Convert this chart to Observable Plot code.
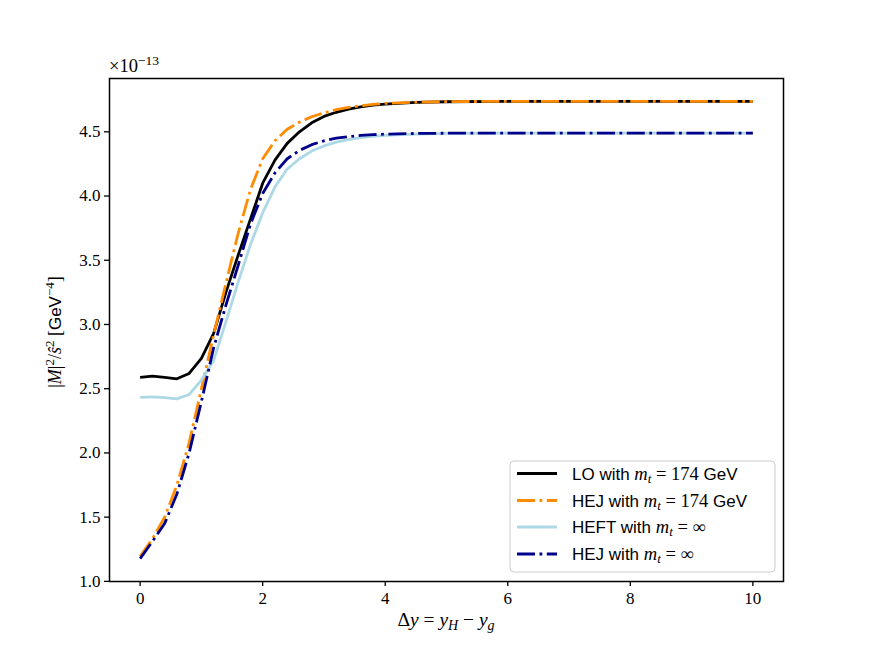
<!DOCTYPE html>
<html>
<head>
<meta charset="utf-8">
<script src="https://cdn.jsdelivr.net/npm/d3@7"></script>
<script src="https://cdn.jsdelivr.net/npm/@observablehq/plot@0.6"></script>
<style>
  html, body { margin: 0; padding: 0; background: white; }
  #chart { width: 871px; height: 654px; }
</style>
</head>
<body>
<div id="chart"></div>
<script>
// Δy values
const dy = [0, 0.2, 0.4, 0.6, 0.8, 1.0, 1.2, 1.4, 1.6, 1.8, 2.0, 2.2, 2.4, 2.6, 2.8, 3.0, 3.2, 3.4, 3.6, 3.8, 4.0, 4.5, 5, 6, 7, 8, 9, 10];
// |M|^2 / s^2 in units of 1e-13 GeV^-4
const loMt174 = [2.588, 2.598, 2.588, 2.577, 2.619, 2.736, 2.93, 3.25, 3.54, 3.82, 4.10, 4.28, 4.41, 4.50, 4.57, 4.62, 4.652, 4.676, 4.694, 4.707, 4.716, 4.729, 4.734, 4.737, 4.737, 4.737, 4.737, 4.737];
const hejMt174 = [1.195, 1.33, 1.50, 1.75, 2.08, 2.50, 2.92, 3.32, 3.71, 4.05, 4.29, 4.43, 4.52, 4.575, 4.617, 4.648, 4.672, 4.69, 4.703, 4.714, 4.721, 4.731, 4.735, 4.737, 4.737, 4.737, 4.737, 4.737];
const heftInf = [2.432, 2.437, 2.43, 2.421, 2.455, 2.567, 2.72, 3.02, 3.33, 3.62, 3.87, 4.07, 4.21, 4.29, 4.35, 4.39, 4.42, 4.44, 4.455, 4.465, 4.472, 4.482, 4.487, 4.49, 4.49, 4.49, 4.49, 4.49];
const hejInf = [1.177, 1.31, 1.45, 1.68, 2.00, 2.40, 2.82, 3.15, 3.46, 3.78, 4.02, 4.18, 4.29, 4.355, 4.40, 4.43, 4.45, 4.463, 4.472, 4.478, 4.482, 4.487, 4.489, 4.49, 4.49, 4.49, 4.49, 4.49];

const xTicks = [0, 2, 4, 6, 8, 10];
const yTicks = [1.0, 1.5, 2.0, 2.5, 3.0, 3.5, 4.0, 4.5];

const seriesDefs = [
  {key: "LO174", values: loMt174, color: "#000000", dash: null},
  {key: "HEJ174", values: hejMt174, color: "#ff8c00", dash: "18,4.5,2.8,4.5"},
  {key: "HEFTinf", values: heftInf, color: "#add8e6", dash: null},
  {key: "HEJinf", values: hejInf, color: "#00008b", dash: "18,4.5,2.8,4.5"}
];

const lineMarks = seriesDefs.map(s => {
  const rows = dy.map((x, i) => ({x, y: s.values[i]}));
  const opts = {x: "x", y: "y", stroke: s.color, strokeWidth: 2.8, strokeLinejoin: "round", strokeLinecap: "butt"};
  if (s.dash) opts.strokeDasharray = s.dash;
  return Plot.line(rows, opts);
});

const serif = "'Liberation Serif', 'DejaVu Serif', serif";
const sans = "'Liberation Sans', 'DejaVu Sans', sans-serif";

const chart = Plot.plot({
  width: 871,
  height: 654,
  marginLeft: 109,
  marginRight: 88,
  marginTop: 78,
  marginBottom: 73,
  style: {fontFamily: serif, fontSize: "17px", background: "white", color: "black"},
  x: {domain: [-0.5, 10.5]},
  y: {domain: [0.999, 4.915]},
  marks: [
    ...lineMarks,
    Plot.axisX({ticks: xTicks, tickFormat: d => String(d), tickSize: 5, tickPadding: 5, label: null, fontSize: 17, strokeWidth: 1.3}),
    Plot.axisY({ticks: yTicks, tickFormat: d => d.toFixed(1), tickSize: 5, tickPadding: 4, label: null, fontSize: 17, strokeWidth: 1.3}),
    Plot.frame({stroke: "black", strokeWidth: 1.5})
  ]
});

document.getElementById("chart").appendChild(chart);

const svg = d3.select(chart);

function txt(parent) {
  return parent.append("text").attr("text-anchor", "start").attr("fill", "black");
}
function span(t, str, opts = {}) {
  const s = t.append("tspan").text(str);
  if (opts.family) s.style("font-family", opts.family);
  if (opts.size) s.style("font-size", opts.size + "px");
  if (opts.italic) s.style("font-style", "italic");
  if (opts.dy) s.attr("dy", opts.dy);
  return s;
}

// multiplier
const mult = txt(svg).attr("x", 109).attr("y", 72).style("font-family", serif).style("font-size", "18.5px");
span(mult, "×10");
span(mult, "−13", {size: 13.5, dy: -7});

// x label
const xl = txt(svg).attr("x", 446).attr("y", 626).attr("text-anchor", "middle").style("font-family", serif).style("font-size", "19.5px");
span(xl, "Δ");
span(xl, "y", {italic: true});
span(xl, " = ");
span(xl, "y", {italic: true});
span(xl, "H", {italic: true, size: 14, dy: 4});
span(xl, " − ", {dy: -4});
span(xl, "y", {italic: true});
span(xl, "g", {italic: true, size: 14, dy: 4});

// y label
const yl = txt(svg).attr("transform", "translate(61,332) rotate(-90)").attr("text-anchor", "middle").style("font-family", serif).style("font-size", "18px");
span(yl, "|");
span(yl, "M", {italic: true});
span(yl, "|");
span(yl, "2", {size: 13, dy: -7});
span(yl, "/", {dy: 7});
span(yl, "ŝ", {italic: true});
span(yl, "2", {size: 13, dy: -7});
span(yl, " [", {dy: 7});
span(yl, "GeV", {family: sans, size: 17});
span(yl, "−4", {size: 13, dy: -7});
span(yl, "]", {dy: 7});

// legend
const lg = svg.append("g");
lg.append("rect").attr("x", 510).attr("y", 461).attr("width", 265).attr("height", 111).attr("rx", 4)
  .attr("fill", "white").attr("fill-opacity", 0.8).attr("stroke", "#cccccc").attr("stroke-width", 1);
const legendRows = [
  {s: seriesDefs[0], label: "LO with ", val: "174", unit: true},
  {s: seriesDefs[1], label: "HEJ with ", val: "174", unit: true},
  {s: seriesDefs[2], label: "HEFT with ", val: "∞", unit: false},
  {s: seriesDefs[3], label: "HEJ with ", val: "∞", unit: false}
];
const rowY = [473.5, 500.5, 527, 554];
legendRows.forEach((r, i) => {
  const y = rowY[i];
  const ln = lg.append("line").attr("x1", 517).attr("x2", 557).attr("y1", y).attr("y2", y)
    .attr("stroke", r.s.color).attr("stroke-width", 2.8);
  if (r.s.dash) ln.attr("stroke-dasharray", r.s.dash);
  const t = txt(lg).attr("x", 572).attr("y", y + 6).style("font-size", "17px").style("font-family", sans);
  span(t, r.label, {family: sans});
  span(t, "m", {family: serif, italic: true, size: 18.5});
  span(t, "t", {family: serif, italic: true, size: 13, dy: 3});
  span(t, " = " + r.val, {family: serif, size: 18.5, dy: -3});
  if (r.unit) span(t, " GeV", {family: sans});
});
</script>
</body>
</html>
